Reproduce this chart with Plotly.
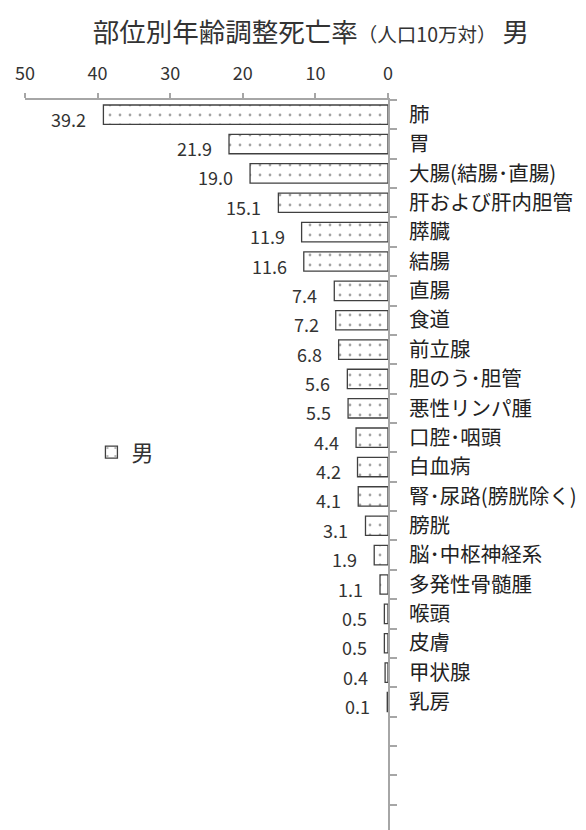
import plotly.graph_objects as go

# 部位別年齢調整死亡率（人口10万対） 男
sites = ['肺', '胃', '大腸(結腸･直腸)', '肝および肝内胆管', '膵臓', '結腸', '直腸',
         '食道', '前立腺', '胆のう･胆管', '悪性リンパ腫', '口腔･咽頭', '白血病',
         '腎･尿路(膀胱除く)', '膀胱', '脳･中枢神経系', '多発性骨髄腫', '喉頭',
         '皮膚', '甲状腺', '乳房']
rates = [39.2, 21.9, 19.0, 15.1, 11.9, 11.6, 7.4, 7.2, 6.8, 5.6, 5.5, 4.4, 4.2,
         4.1, 3.1, 1.9, 1.1, 0.5, 0.5, 0.4, 0.1]
x_ticks = [0, 10, 20, 30, 40, 50]
n_slots = 25  # the category axis keeps going below the last site

FONT = 'Noto Sans CJK JP'
TXT = '#333333'
AX = '#a6a6a6'

pos = list(range(len(sites)))

fig = go.Figure()
fig.add_trace(go.Bar(
    x=rates, y=pos, orientation='h', name='男',
    marker=dict(
        color='white',
        line=dict(color='#404040', width=1.3),
        pattern=dict(shape='.', fgcolor='#4a4a4a', bgcolor='white',
                     size=10, solidity=0.06),
    ),
))

# data labels just outside the bar ends
for p, v in zip(pos, rates):
    fig.add_annotation(x=v, y=p, text=f'{v:.1f}', showarrow=False,
                       xanchor='right', xshift=-15, yshift=-4,
                       font=dict(family=FONT, size=18, color=TXT))

# page body has an 8px margin, so the figure is 8px smaller each way
fig.update_layout(
    width=578, height=822,
    margin=dict(l=17, r=197.5, t=91.5, b=0),
    plot_bgcolor='white', paper_bgcolor='white',
    bargap=0.34,
    font=dict(family=FONT, color=TXT),
    title=dict(
        text="部位別年齢調整死亡率<span style='font-size:19.5px'>（人口10万対）</span> 男",
        font=dict(family=FONT, size=26.5, color=TXT),
        x=0.524, xref='container', xanchor='center',
        y=0.9705, yref='container', yanchor='middle',
    ),
    showlegend=True,
    legend=dict(x=0.183, y=0.5175, xanchor='left', yanchor='middle',
                font=dict(family=FONT, size=22, color=TXT),
                bgcolor='rgba(0,0,0,0)'),
    xaxis=dict(
        side='top', range=[50, 0], tickvals=x_ticks, automargin=False,
        showline=True, linecolor=AX, linewidth=1.75,
        ticks='outside', ticklen=5, tickcolor=AX, tickwidth=1.75,
        ticklabelstandoff=6,
        showgrid=False, zeroline=False,
        tickfont=dict(family=FONT, size=18, color=TXT),
    ),
    yaxis=dict(
        side='right', range=[n_slots - 0.64, -0.5], automargin=False,
        tickmode='array', tickvals=pos, ticktext=sites, ticks='',
        showline=True, linecolor=AX, linewidth=1.75,
        minor=dict(tickmode='array',
                   tickvals=[i - 0.5 for i in range(n_slots + 1)],
                   ticks='outside', ticklen=7, tickcolor=AX, tickwidth=1.75,
                   showgrid=False),
        showgrid=False, zeroline=False,
        ticklabelstandoff=15,
        tickfont=dict(family=FONT, size=20.5, color='#222222'),
    ),
)

fig.write_html("out.html")
